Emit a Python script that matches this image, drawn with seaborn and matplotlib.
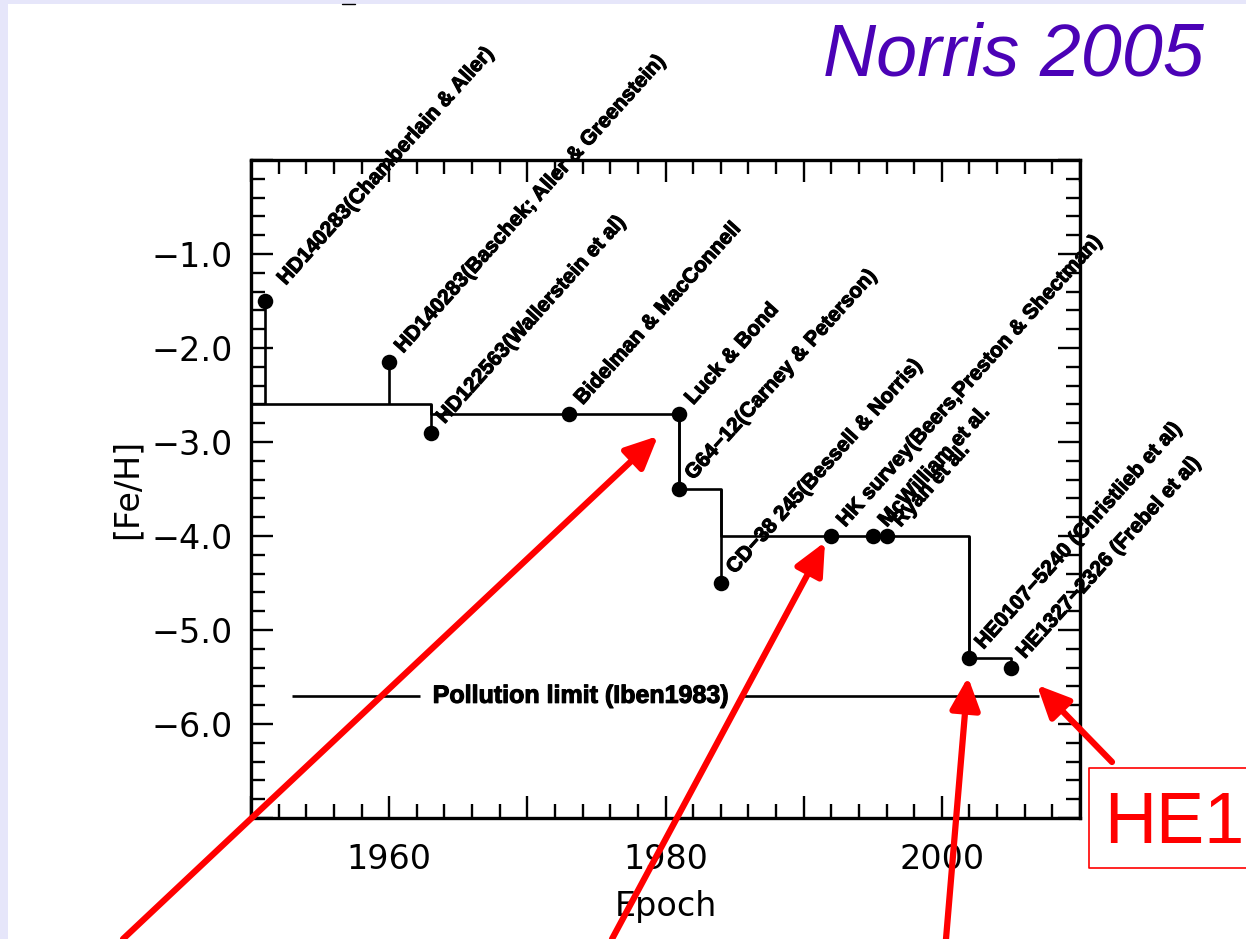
import numpy as np
import matplotlib
matplotlib.use("Agg")
import matplotlib.pyplot as plt
import matplotlib.patheffects as pe
from matplotlib.patches import FancyArrowPatch, Rectangle, ArrowStyle
from matplotlib.lines import Line2D
from matplotlib.ticker import MultipleLocator, FuncFormatter
import seaborn as sns

# --- data -----------------------------------------------------------------
# Most metal-poor stars known at each epoch: label, epoch of discovery, [Fe/H]
star_labels = [
    "HD140283(Chamberlain & Aller)",
    "HD140283(Baschek; Aller & Greenstein)",
    "HD122563(Wallerstein et al)",
    "Bidelman & MacConnell",
    "Luck & Bond",
    "G64\u221212(Carney & Peterson)",
    "CD\u221238 245(Bessell & Norris)",
    "HK survey(Beers,Preston & Shectman)",
    "McWilliam et al.",
    "Ryan et al.",
    "HE0107\u22125240 (Christlieb et al)",
    "HE1327\u22122326 (Frebel et al)",
]
star_epoch = [1951, 1960, 1963, 1973, 1981, 1981, 1984, 1992, 1995, 1996, 2002, 2005]
star_feh = [-1.5, -2.15, -2.9, -2.7, -2.7, -3.5, -4.5, -4.0, -4.0, -4.0, -5.3, -5.4]

# Record-low metallicity as a step function of epoch
record_epoch = [1950, 1963, 1981, 1984, 2002, 2005]
record_feh = [-2.6, -2.7, -3.5, -4.0, -5.3, -5.3]

# Pollution limit (Iben 1983)
pollution_feh = -5.7
pollution_label = "Pollution limit (Iben1983)"
pollution_span = [1953.0, 2007.0]
pollution_gap = [1962.2, 1985.5]

xtick_labels = [1960, 1980, 2000]
ytick_labels = [-1, -2, -3, -4, -5, -6]

title_text = "Norris 2005"
callout_text = "HE1"

# --- figure ---------------------------------------------------------------
sns.set_style("ticks")
plt.rcParams["font.family"] = ["DejaVu Sans"]
plt.rcParams["text.color"] = "black"
plt.rcParams["axes.labelcolor"] = "black"
plt.rcParams["xtick.color"] = "black"
plt.rcParams["ytick.color"] = "black"

W, H = 1246, 939
fig = plt.figure(figsize=(W / 100, H / 100), dpi=100)
fig.patch.set_facecolor("white")


def fx(x):
    return x / W


def fy(y):
    return 1 - y / H


ax = fig.add_axes([fx(251), fy(818), fx(1080) - fx(251), fy(160) - fy(818)])
ax.set_facecolor("white")

# record step line
sns.lineplot(x=record_epoch, y=record_feh, drawstyle="steps-post", color="black",
             lw=1.9, estimator=None, sort=False, ax=ax, zorder=2)

# stems joining each star to the record level in force before its epoch
idx = np.searchsorted(record_epoch, star_epoch, side="left") - 1
stem_base = np.array(record_feh)[np.clip(idx, 0, None)]
ax.vlines(star_epoch, stem_base, star_feh, color="black", lw=1.9, zorder=2)

# stars
sns.scatterplot(x=star_epoch, y=star_feh, color="black", s=125, linewidth=0,
                ax=ax, zorder=3, legend=False)

# rotated star labels
heavy = [pe.withStroke(linewidth=0.8, foreground="black")]
for i, (lab, xv, yv) in enumerate(zip(star_labels, star_epoch, star_feh)):
    off = (15, 11) if i == 0 else (10, 6)
    ax.annotate(lab, (xv, yv), xytext=off, textcoords="offset points",
                rotation=48, rotation_mode="anchor", ha="left", va="baseline",
                fontsize=15, fontweight="bold", family="Liberation Sans",
                color="black", annotation_clip=False, zorder=4,
                path_effects=heavy)

# pollution limit line with inline label
ax.hlines(pollution_feh, pollution_span[0], pollution_gap[0], color="black", lw=1.9)
ax.hlines(pollution_feh, pollution_gap[1], pollution_span[1], color="black", lw=1.9)
ax.text(np.mean(pollution_gap), pollution_feh, pollution_label, ha="center",
        va="center", fontsize=18, fontweight="bold", family="Liberation Sans",
        color="black", path_effects=heavy)

# axes
ax.set_xlim(1950, 2010)
ax.set_ylim(-7, 0)
ax.xaxis.set_major_locator(MultipleLocator(10))
ax.xaxis.set_minor_locator(MultipleLocator(2))
ax.yaxis.set_major_locator(MultipleLocator(1))
ax.yaxis.set_minor_locator(MultipleLocator(0.2))
ax.xaxis.set_major_formatter(FuncFormatter(
    lambda v, _: f"{v:.0f}" if round(v) in xtick_labels else ""))
ax.yaxis.set_major_formatter(FuncFormatter(
    lambda v, _: f"\u2212{abs(v):.1f}" if round(v) in ytick_labels else ""))
ax.tick_params(which="both", direction="in", top=True, right=True,
               width=1.7, color="black", labelsize=24, labelcolor="black")
ax.tick_params(which="major", length=15.5)
ax.tick_params(which="minor", length=10)
ax.tick_params(axis="y", which="major", pad=13)
ax.tick_params(axis="x", which="major", pad=18)
for s in ax.spines.values():
    s.set_linewidth(2.4)
    s.set_color("black")
    s.set_visible(True)
ax.set_xlabel("Epoch", fontsize=24, labelpad=10, color="black")
ax.set_ylabel("[Fe/H]", fontsize=24, labelpad=6, color="black")
ax.grid(False)

# --- slide overlay --------------------------------------------------------
fig.patches.append(Rectangle((0, fy(4)), 1, 4 / H, transform=fig.transFigure,
                             facecolor="#e6e6fa", edgecolor="none", zorder=0))
fig.patches.append(Rectangle((0, 0), 8 / W, 1, transform=fig.transFigure,
                             facecolor="#e6e6fa", edgecolor="none", zorder=0))
fig.add_artist(Line2D([fx(342), fx(355)], [fy(4), fy(4)], color="black", lw=1))

fig.text(fx(823), fy(75), title_text, fontsize=53, style="italic",
         color="#4b02b6", family="Liberation Sans", ha="left", va="baseline")

arrows = [((123, 939), (658, 436)),
          ((612, 939), (825, 542)),
          ((946, 939), (968, 677)),
          ((1112, 762), (1037, 685))]
head = ArrowStyle("-|>", head_length=1.4, head_width=0.65)
for (x0, y0), (x1, y1) in arrows:
    fig.add_artist(FancyArrowPatch((fx(x0), fy(y0)), (fx(x1), fy(y1)),
                                   transform=fig.transFigure, arrowstyle=head,
                                   mutation_scale=14, color="#ff0000", lw=4.5,
                                   shrinkA=0, shrinkB=0, zorder=10))

# callout box (open to the right edge)
bx0, by0, by1 = 1089, 768, 868
fig.add_artist(Line2D([fx(W), fx(bx0), fx(bx0), fx(W)],
                      [fy(by0), fy(by0), fy(by1), fy(by1)],
                      color="#ff0000", lw=1.2, zorder=9))
fig.text(fx(1104), fy(843), callout_text, fontsize=52, color="#ff0000",
         family="Liberation Sans", ha="left", va="baseline", zorder=9)

fig.savefig("out.png", dpi=100)
